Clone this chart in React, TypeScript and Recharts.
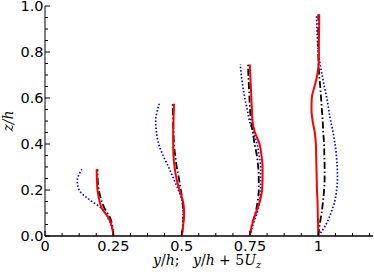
import { ScatterChart, Scatter, XAxis, YAxis } from "recharts";

// x-axis ticks (majors get a label)
const xTicks = [
  0, 0.0625, 0.125, 0.1875, 0.25, 0.3125, 0.375, 0.4375, 0.5, 0.5625, 0.625,
  0.6875, 0.75, 0.8125, 0.875, 0.9375, 1, 1.0625, 1.125, 1.1875,
];
const xMajor = [0, 0.25, 0.5, 0.75, 1];
const xMajorLabels = ["0", "0.25", "0.5", "0.75", "1"];

const yTicks = [
  0, 0.05, 0.1, 0.15, 0.2, 0.25, 0.3, 0.35, 0.4, 0.45, 0.5, 0.55, 0.6, 0.65,
  0.7, 0.75, 0.8, 0.85, 0.9, 0.95, 1,
];
const yMajor = [0, 0.2, 0.4, 0.6, 0.8, 1];
const yMajorLabels = ["0.0", "0.2", "0.4", "0.6", "0.8", "1.0"];

// profile at y/h = 0.25
const zA = [0, 0.04, 0.08, 0.12, 0.16, 0.2, 0.24, 0.29];
const redA = [0.25, 0.245, 0.232, 0.208, 0.198, 0.192, 0.19, 0.189];
const blackA = [0.25, 0.247, 0.238, 0.218, 0.205, 0.197, 0.193, 0.192];
const blueA = [0.25, 0.244, 0.23, 0.207, 0.16, 0.125, 0.118, 0.135];

// profile at y/h = 0.5
const zB = [0, 0.05, 0.1, 0.15, 0.2, 0.25, 0.3, 0.35, 0.4, 0.45, 0.5, 0.575];
const redB = [0.5, 0.506, 0.509, 0.505, 0.492, 0.481, 0.474, 0.47, 0.469, 0.469, 0.47, 0.472];
const blackB = [0.5, 0.505, 0.507, 0.503, 0.497, 0.49, 0.482, 0.476, 0.472, 0.47, 0.469, 0.467];
const blueB = [0.5, 0.505, 0.505, 0.502, 0.488, 0.47, 0.452, 0.432, 0.416, 0.408, 0.405, 0.418];

// profile at y/h = 0.75
const zC = [0, 0.05, 0.1, 0.15, 0.2, 0.25, 0.3, 0.35, 0.4, 0.45, 0.5, 0.55, 0.6, 0.65, 0.7, 0.746];
const redC = [0.749, 0.758, 0.771, 0.786, 0.794, 0.796, 0.796, 0.792, 0.785, 0.768, 0.759, 0.757, 0.755, 0.753, 0.751, 0.749];
const blackC = [0.749, 0.757, 0.77, 0.778, 0.782, 0.782, 0.78, 0.775, 0.767, 0.76, 0.754, 0.75, 0.748, 0.746, 0.744, 0.743];
const blueC = [0.75, 0.761, 0.776, 0.785, 0.789, 0.789, 0.789, 0.783, 0.776, 0.762, 0.748, 0.74, 0.731, 0.724, 0.718, 0.715];

// profile at y/h = 1
const zD = [0, 0.05, 0.1, 0.15, 0.2, 0.25, 0.3, 0.35, 0.4, 0.45, 0.5, 0.55, 0.6, 0.65, 0.7, 0.75, 0.8, 0.85, 0.9, 0.964];
const redD = [1, 0.999, 0.998, 0.997, 0.995, 0.994, 0.993, 0.992, 0.991, 0.987, 0.979, 0.975, 0.976, 0.986, 0.996, 1.001, 1.002, 1.002, 1.003, 1.003];
const blackD = [1, 1.005, 1.012, 1.017, 1.021, 1.023, 1.023, 1.022, 1.021, 1.018, 1.016, 1.013, 1.01, 1.007, 1.003, 1.001, 1, 1, 1, 1];
const blueD = [1, 1.028, 1.046, 1.06, 1.067, 1.07, 1.069, 1.066, 1.061, 1.054, 1.045, 1.038, 1.031, 1.022, 1.014, 1.006, 1, 0.997, 0.995, 0.993];

const profiles = [
  { z: zA, red: redA, black: blackA, blue: blueA },
  { z: zB, red: redB, black: blackB, blue: blueB },
  { z: zC, red: redC, black: blackC, blue: blueC },
  { z: zD, red: redD, black: blackD, blue: blueD },
];

const styles = {
  blue: { stroke: "#0000ff", strokeWidth: 1.7, strokeDasharray: "1.5 2" },
  black: { stroke: "#000000", strokeWidth: 1.8, strokeDasharray: "7 2.5 1.5 2.5" },
  red: { stroke: "#ff0000", strokeWidth: 2 },
};

const FONT = "DejaVu Sans, sans-serif";
const TICK_FS = 14.5;
const MAJ = 5;
const MIN = 3;

const BottomTick = (props: any) => {
  const { x, y, payload } = props;
  const i = xMajor.indexOf(payload.value);
  return (
    <g>
      <line x1={x} x2={x} y1={y} y2={y - (i >= 0 ? MAJ : MIN)} stroke="#000" />
      {i >= 0 && (
        <text x={x} y={y + 15} textAnchor="middle" fontSize={TICK_FS} fontFamily={FONT} fill="#000">
          {xMajorLabels[i]}
        </text>
      )}
    </g>
  );
};

const TopTick = (props: any) => {
  const { x, y, payload } = props;
  const major = xMajor.includes(payload.value);
  return <line x1={x} x2={x} y1={y} y2={y + (major ? MAJ : MIN)} stroke="#000" />;
};

const LeftTick = (props: any) => {
  const { x, y, payload } = props;
  const i = yMajor.indexOf(payload.value);
  return (
    <g>
      <line x1={x} x2={x + (i >= 0 ? MAJ : MIN)} y1={y} y2={y} stroke="#000" />
      {i >= 0 && (
        <text x={x - 1.5} y={y + 5} textAnchor="end" fontSize={TICK_FS} fontFamily={FONT} fill="#000">
          {yMajorLabels[i]}
        </text>
      )}
    </g>
  );
};

const RightTick = (props: any) => {
  const { x, y, payload } = props;
  const major = yMajor.includes(payload.value);
  return <line x1={x} x2={x - (major ? MAJ : MIN)} y1={y} y2={y} stroke="#000" />;
};

const NoShape = () => <g />;

export default function App() {
  return (
    <div style={{ position: "absolute", left: 0, top: 0, width: 374, height: 272, background: "#fff" }}>
      <ScatterChart width={374} height={272} margin={{ top: 6, right: 1, bottom: 0, left: 0 }}>
        <XAxis
          xAxisId="b"
          dataKey="x"
          type="number"
          domain={[0, 1.2]}
          allowDataOverflow
          ticks={xTicks}
          interval={0}
          height={36}
          tickSize={0}
          tickMargin={0}
          tickLine={false}
          tick={BottomTick}
          axisLine={{ stroke: "#000", strokeWidth: 1.5 }}
        />
        <XAxis
          xAxisId="t"
          orientation="top"
          type="number"
          domain={[0, 1.2]}
          allowDataOverflow
          ticks={xTicks}
          interval={0}
          height={0}
          tickSize={0}
          tickMargin={0}
          tickLine={false}
          tick={TopTick}
          axisLine={{ stroke: "#000" }}
        />
        <YAxis
          yAxisId="l"
          dataKey="z"
          type="number"
          domain={[0, 1]}
          allowDataOverflow
          ticks={yTicks}
          interval={0}
          width={45}
          tickSize={0}
          tickMargin={0}
          tickLine={false}
          tick={LeftTick}
          axisLine={{ stroke: "#000" }}
        />
        <YAxis
          yAxisId="r"
          orientation="right"
          type="number"
          domain={[0, 1]}
          allowDataOverflow
          ticks={yTicks}
          interval={0}
          width={0}
          tickSize={0}
          tickMargin={0}
          tickLine={false}
          tick={RightTick}
          axisLine={{ stroke: "#000" }}
        />
        {profiles.flatMap((p, k) =>
          (["blue", "black", "red"] as const).map((s) => (
            <Scatter
              key={`${s}-${k}`}
              xAxisId="b"
              yAxisId="l"
              data={p.z.map((z, i) => ({ x: p[s][i], z }))}
              fill={styles[s].stroke}
              line={styles[s]}
              lineJointType="monotoneY"
              shape={NoShape}
              isAnimationActive={false}
            />
          ))
        )}
      </ScatterChart>
      <svg width={374} height={272} style={{ position: "absolute", left: 0, top: 0, pointerEvents: "none" }}>
        <text
          transform="translate(13 121) rotate(-90)"
          textAnchor="middle"
          fontSize={14}
          fontFamily="DejaVu Serif, serif"
          fontStyle="italic"
          fill="#000"
        >
          z/h
        </text>
        <text x={153} y={265} fontSize={14} fontFamily="DejaVu Serif, serif" fill="#000">
          <tspan fontStyle="italic">y</tspan>/<tspan fontStyle="italic">h</tspan>;
        </text>
        <text x={193} y={265} fontSize={14} fontFamily="DejaVu Serif, serif" fill="#000">
          <tspan fontStyle="italic">y</tspan>/<tspan fontStyle="italic">h</tspan> + 5
          <tspan fontStyle="italic">U</tspan>
          <tspan fontStyle="italic" fontSize={9.5} dy={3}>z</tspan>
        </text>
      </svg>
    </div>
  );
}
